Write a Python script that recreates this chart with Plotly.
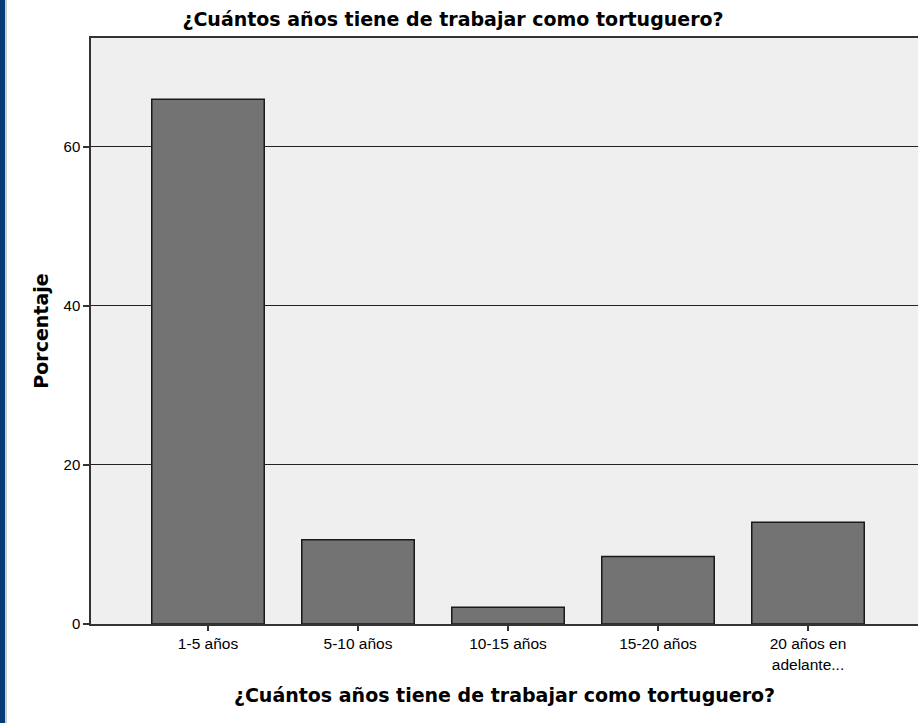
import plotly.graph_objects as go

categories = ["1-5 años", "5-10 años", "10-15 años", "15-20 años", "20 años en<br>adelante..."]
values = [66.0, 10.6, 2.1, 8.5, 12.8]
y_ticks = [0, 20, 40, 60]
title_text = "¿Cuántos años tiene de trabajar como tortuguero?"
y_title = "Porcentaje"

W, H = 918, 723
ML, MR, MT, MB = 91, 0, 38, 99
plot_w = W - ML - MR
plot_h = H - MT - MB
TITLE_FONT = "DejaVu Sans, Verdana, sans-serif"
TICK_FONT = "Liberation Sans, Arial, sans-serif"

fig = go.Figure(go.Bar(
    x=list(range(len(categories))),
    y=values,
    width=0.75,
    marker=dict(color="#737373", line=dict(color="#1a1a1a", width=1.5)),
    hoverinfo="skip",
))

fig.update_layout(
    width=W, height=H,
    margin=dict(l=ML, r=MR, t=MT, b=MB),
    paper_bgcolor="white",
    plot_bgcolor="#efefef",
    showlegend=False,
    font=dict(family=TICK_FONT, color="black", size=15),
    title=dict(text="<b>" + title_text + "</b>", x=453 / W, xref="container", xanchor="center",
               y=1 - 19 / H, yref="container", yanchor="middle",
               font=dict(family=TITLE_FONT, size=19, color="black")),
    xaxis=dict(
        tickmode="array",
        tickvals=list(range(len(categories))),
        ticktext=categories,
        range=[-0.78, -0.78 + plot_w / 150],
        showline=True, linecolor="#333333", linewidth=1.5, mirror=True,
        ticks="outside", ticklen=5, tickcolor="#333333", tickwidth=1.5,
        showgrid=False, zeroline=False,
        tickfont=dict(family=TICK_FONT, size=15.5),
        title=dict(text="<b>" + title_text + "</b>", font=dict(family=TITLE_FONT, size=19), standoff=17),
    ),
    yaxis=dict(
        tickmode="array",
        tickvals=y_ticks,
        range=[0, 73.7],
        showline=True, linecolor="#333333", linewidth=1.5,
        ticks="outside", ticklen=6, tickcolor="#333333", tickwidth=1.5,
        showgrid=True, gridcolor="#222222", gridwidth=1.2,
        zeroline=False,
        tickfont=dict(family=TICK_FONT, size=15),
        title=dict(text="<b>" + y_title + "</b>", font=dict(family=TITLE_FONT, size=19), standoff=10),
    ),
    shapes=[
        dict(type="rect", xref="paper", yref="paper",
             x0=-ML / plot_w, x1=-(ML - 5) / plot_w, y0=-MB / plot_h, y1=1 + MT / plot_h,
             fillcolor="#063a78", line=dict(width=0), layer="above"),
        dict(type="line", xref="paper", yref="paper",
             x0=-(ML - 6) / plot_w, x1=-(ML - 6) / plot_w, y0=-MB / plot_h, y1=1 + MT / plot_h,
             line=dict(color="#9a9a9a", width=1), layer="above"),
    ],
)

fig.write_html("out.html", config={"displayModeBar": False},
               post_script="document.body.style.margin='0';")
